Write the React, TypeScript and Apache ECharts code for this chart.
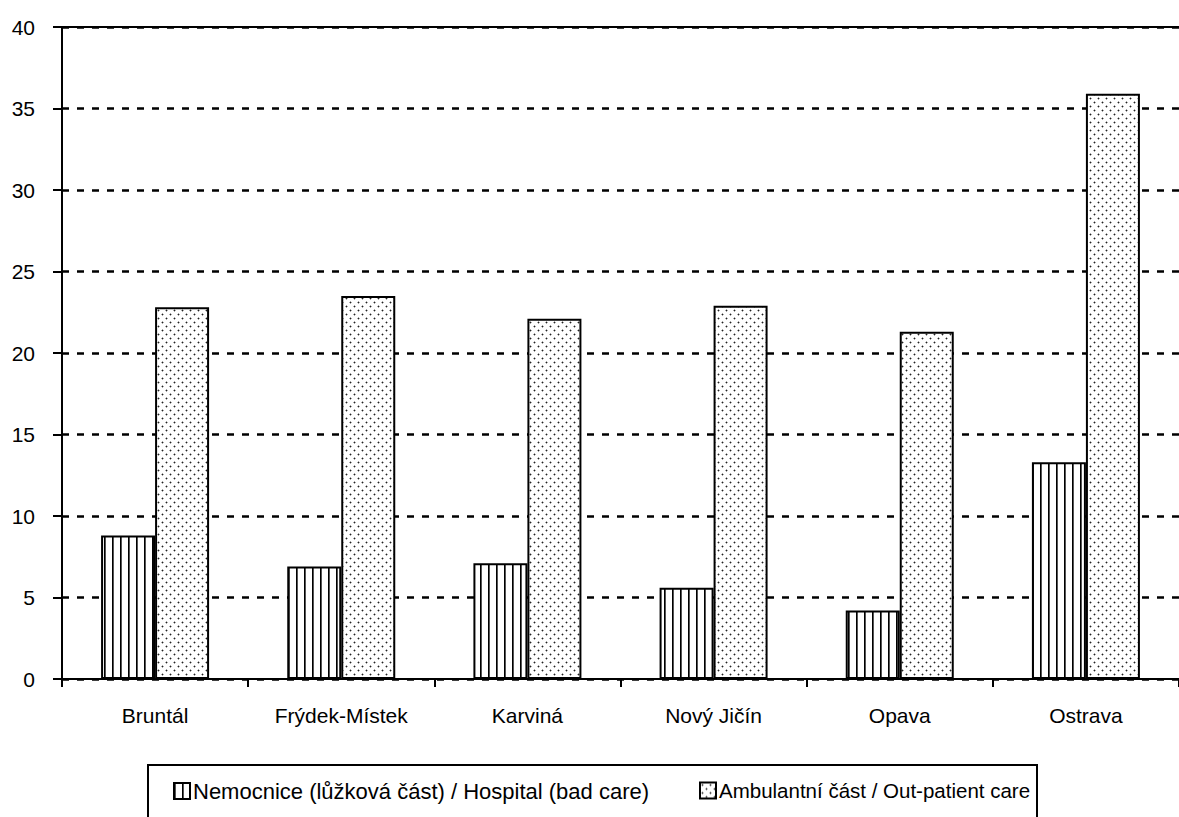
import React, { useEffect, useRef } from "react";
import * as echarts from "echarts";

const categories = ["Bruntál", "Frýdek-Místek", "Karviná", "Nový Jičín", "Opava", "Ostrava"];
const hospitalName = "Nemocnice (lůžková část) / Hospital (bad care)";
const outpatientName = "Ambulantní část / Out-patient care";
const hospitalValues = [8.8, 6.9, 7.1, 5.6, 4.2, 13.3];
const outpatientValues = [22.8, 23.5, 22.1, 22.9, 21.3, 35.9];
const yTicks = { min: 0, max: 40, interval: 5 };

const FONT = '"Liberation Sans", Arial, sans-serif';

function makeStripe(): HTMLCanvasElement {
  const c = document.createElement("canvas");
  c.width = 8;
  c.height = 8;
  const ctx = c.getContext("2d")!;
  ctx.fillStyle = "#ffffff";
  ctx.fillRect(0, 0, 8, 8);
  ctx.fillStyle = "#000000";
  ctx.fillRect(0, 0, 1, 8);
  ctx.fillStyle = "#555555";
  ctx.fillRect(1, 0, 1, 8);
  return c;
}

function makeDots(): HTMLCanvasElement {
  const c = document.createElement("canvas");
  c.width = 8;
  c.height = 8;
  const ctx = c.getContext("2d")!;
  ctx.fillStyle = "#ffffff";
  ctx.fillRect(0, 0, 8, 8);
  const dot = (x: number, y: number) => {
    ctx.fillStyle = "#aaaaaa";
    ctx.fillRect(x - 1, y, 3, 1);
    ctx.fillRect(x, y - 1, 1, 3);
    ctx.fillStyle = "#222222";
    ctx.fillRect(x, y, 1, 1);
  };
  dot(2, 2);
  dot(6, 6);
  return c;
}

export default function App() {
  const ref = useRef<HTMLDivElement>(null);
  useEffect(() => {
    if (!ref.current) return;
    const chart = echarts.init(ref.current, undefined, { renderer: "svg" });
    const stripe = makeStripe();
    const dots = makeDots();
    const option: any = {
      animation: false,
      backgroundColor: "#ffffff",
      textStyle: { fontFamily: FONT, color: "#000" },
      grid: { left: 62, top: 27, right: -11, bottom: 138, containLabel: false },
      legend: [
        {
          data: [hospitalName],
          left: 173,
          top: 780,
          padding: 0,
          itemWidth: 16,
          itemHeight: 16,
          icon: "rect",
          textStyle: { fontFamily: FONT, fontSize: 22, color: "#000", padding: [0, 0, 0, -2] },
        },
        {
          data: [outpatientName],
          left: 699,
          top: 780,
          padding: 0,
          itemWidth: 16,
          itemHeight: 16,
          icon: "rect",
          textStyle: { fontFamily: FONT, fontSize: 20.5, color: "#000", padding: [0, 0, 0, -2] },
        },
      ],
      graphic: [
        {
          type: "rect",
          shape: { x: 148, y: 765, width: 889, height: 70 },
          style: { fill: "none", stroke: "#000", lineWidth: 2 },
          silent: true,
          z: 10,
        },
      ],
      xAxis: [
        {
          type: "category",
          data: categories,
          boundaryGap: true,
          axisLine: { lineStyle: { color: "#000", width: 2 } },
          axisTick: { show: true, interval: 0, length: 8, lineStyle: { color: "#000", width: 2 } },
          axisLabel: { fontFamily: FONT, fontSize: 21, color: "#000", margin: 26, interval: 0 },
          splitLine: { show: false },
        },
        {
          type: "category",
          data: categories,
          position: "top",
          axisLine: { lineStyle: { color: "#000", width: 2 } },
          axisTick: { show: false },
          axisLabel: { show: false },
          splitLine: { show: false },
        },
      ],
      yAxis: {
        type: "value",
        min: yTicks.min,
        max: yTicks.max,
        interval: yTicks.interval,
        axisLine: { show: true, lineStyle: { color: "#000", width: 2 } },
        axisTick: { show: true, length: 9, lineStyle: { color: "#000", width: 2 } },
        axisLabel: { fontFamily: FONT, fontSize: 21, color: "#000", margin: 27 },
        splitLine: { show: true, lineStyle: { color: "#000", width: 2.5, type: [7, 8] } },
      },
      series: [
        {
          name: hospitalName,
          type: "bar",
          data: hospitalValues,
          barWidth: 54,
          barGap: "0%",
          itemStyle: {
            color: { image: stripe, repeat: "repeat" },
            borderColor: "#000",
            borderWidth: 2,
          },
        },
        {
          name: outpatientName,
          type: "bar",
          data: outpatientValues,
          barWidth: 54,
          barGap: "0%",
          itemStyle: {
            color: { image: dots, repeat: "repeat" },
            borderColor: "#000",
            borderWidth: 2,
          },
        },
      ],
    };
    chart.setOption(option);
    return () => chart.dispose();
  }, []);
  return (
    <div
      ref={ref}
      style={{ position: "fixed", left: 0, top: 0, width: 1179, height: 817 }}
    />
  );
}
